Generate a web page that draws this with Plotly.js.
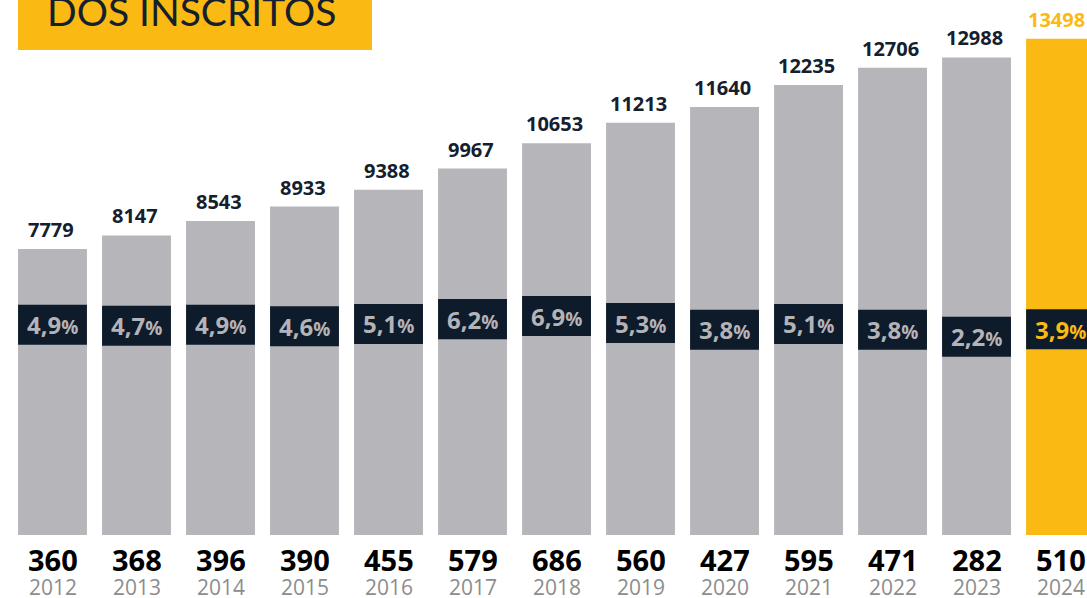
<!DOCTYPE html>
<html><head><meta charset="utf-8">
<script src="https://cdn.plot.ly/plotly-3.0.1.min.js"></script>
<style>html,body{margin:0;padding:0;background:#fff;overflow:hidden}</style>
</head><body>
<div id="chart" style="width:1087px;height:598px"></div>
<script>
const years = ['2012','2013','2014','2015','2016','2017','2018','2019','2020','2021','2022','2023','2024'];
const inscritos = [7779,8147,8543,8933,9388,9967,10653,11213,11640,12235,12706,12988,13498];
const percentuais = [4.9,4.7,4.9,4.6,5.1,6.2,6.9,5.3,3.8,5.1,3.8,2.2,3.9];
const aprovados = [360,368,396,390,455,579,686,560,427,595,471,282,510];
const titleText = 'DOS INSCRITOS';

const GRAY = '#b6b5ba', YEL = '#fbb913', NAVY = '#0e1b2a', DARK = '#14202e';
const last = years.length - 1;
const barColors = years.map((y,i)=> i===last ? YEL : GRAY);
const BOXH = 9.1;

const traces = [
  {type:'bar', x:years, y:inscritos, marker:{color:barColors}, width:0.82, hoverinfo:'skip', xaxis:'x', yaxis:'y'},
  {type:'bar', x:years, y:percentuais.map(()=>BOXH), base:percentuais.map(p=>p-BOXH/2),
   marker:{color:NAVY}, width:0.82, hoverinfo:'skip', xaxis:'x', yaxis:'y2'}
];

const ann = [];
years.forEach((yr,i)=>{
  const hi = i===last;
  ann.push({x:i, y:inscritos[i], xref:'x', yref:'y', yanchor:'bottom', yshift:4, xshift:hi?-4:-2, showarrow:false,
    text:String(inscritos[i]), font:{family:'Open Sans', size:20, weight:700, color: hi?YEL:DARK}});
  ann.push({x:i, y:percentuais[i], xref:'x', yref:'y2', yanchor:'middle', showarrow:false,
    text: percentuais[i].toFixed(1).replace('.',',') + "<span style='font-size:19px'>%</span>",
    font:{family:'Open Sans', size:24, weight:700, color: hi?YEL:'#b3b3b8'}});
  ann.push({x:i, y:0, xref:'x', yref:'paper', yanchor:'top', yshift:-9, height:26, valign:'middle', showarrow:false,
    text:String(aprovados[i]), font:{family:'Open Sans', size:29, weight:700, color:'#000'}});
  ann.push({x:i, y:0, xref:'x', yref:'paper', yanchor:'top', yshift:-40, height:20, valign:'middle', showarrow:false,
    text:yr, font:{family:'Open Sans', size:21, color:'#8d8d8d'}});
});
ann.push({x:45/1087, y:1, xref:'paper', yref:'paper', xanchor:'left', yanchor:'top', yshift:14, showarrow:false,
  text:titleText, font:{family:'Lato', size:39, weight:400, color:'#14202e'}});

const layout = {
  width:1087, height:598, margin:{l:0,r:0,t:0,b:63},
  paper_bgcolor:'#fff', plot_bgcolor:'#fff', showlegend:false, barmode:'overlay',
  xaxis:{type:'category', range:[-0.625,12.315], visible:false, fixedrange:true},
  yaxis:{range:[0,14550], visible:false, fixedrange:true},
  yaxis2:{range:[-42.86,78.73], overlaying:'y', visible:false, fixedrange:true},
  shapes:[{type:'rect', xref:'paper', yref:'paper', x0:18/1087, x1:372/1087, y0:(535-50)/535, y1:1.05,
    fillcolor:YEL, line:{width:0}, layer:'above'}],
  annotations: ann
};
Plotly.newPlot('chart', traces, layout, {displayModeBar:false, staticPlot:true});
</script>
</body></html>
